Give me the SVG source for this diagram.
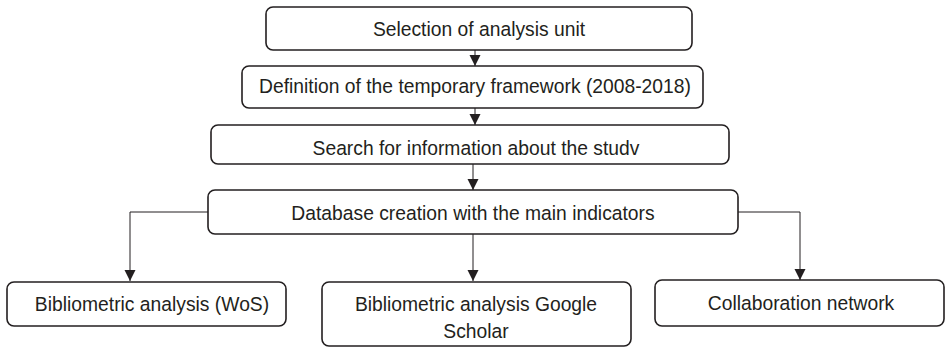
<svg xmlns="http://www.w3.org/2000/svg" width="945" height="348" viewBox="0 0 945 348">
<defs>
<style>
.box{fill:#fff;stroke:#231f20;stroke-width:1.6}
.t{font-family:"Liberation Sans",Arial,sans-serif;font-size:19.3px;fill:#231f20;text-anchor:middle}
.c{fill:none;stroke:#231f20;stroke-width:1}
</style>
<marker id="ah" markerUnits="userSpaceOnUse" markerWidth="12" markerHeight="12" viewBox="0 0 12 12" refX="11" refY="6" orient="auto">
<path d="M0,0.5 L11,6 L0,11.5 Z" fill="#231f20"/>
</marker>
</defs>
<g id="connectors">
<line class="c" x1="475" y1="43" x2="475" y2="66" marker-end="url(#ah)"/>
<line class="c" x1="475" y1="108" x2="475" y2="125" marker-end="url(#ah)"/>
<line class="c" x1="473" y1="164" x2="473" y2="190" marker-end="url(#ah)"/>
<polyline class="c" points="208,212 130,212 130,281" marker-end="url(#ah)"/>
<line class="c" x1="473" y1="234" x2="473" y2="281" marker-end="url(#ah)"/>
<polyline class="c" points="738,212 800,212 800,280" marker-end="url(#ah)"/>
</g>
<g id="n1">
<rect class="box" x="266" y="7" width="426" height="43" rx="7"/>
<text class="t" x="479" y="36">Selection of analysis unit</text>
</g>
<g id="n2">
<rect class="box" x="242" y="66" width="461" height="42" rx="7"/>
<text class="t" x="475" y="93">Definition of the temporary framework (2008-2018)</text>
</g>
<g id="n3">
<rect class="box" x="211" y="125" width="518" height="39" rx="7"/>
<text class="t" x="476" y="155">Search for information about the studv</text>
</g>
<g id="n4">
<rect class="box" x="208" y="190" width="530" height="44" rx="7"/>
<text class="t" x="473" y="220">Database creation with the main indicators</text>
</g>
<g id="n5">
<rect class="box" x="7" y="282" width="279" height="44" rx="7"/>
<text class="t" x="152" y="311">Bibliometric analysis (WoS)</text>
</g>
<g id="n6">
<rect class="box" x="322" y="282" width="309" height="64" rx="7"/>
<text class="t" x="476" y="311">Bibliometric analysis Google</text>
<text class="t" x="476" y="338">Scholar</text>
</g>
<g id="n7">
<rect class="box" x="655" y="280" width="289" height="46" rx="7"/>
<text class="t" x="801" y="310">Collaboration network</text>
</g>
</svg>
